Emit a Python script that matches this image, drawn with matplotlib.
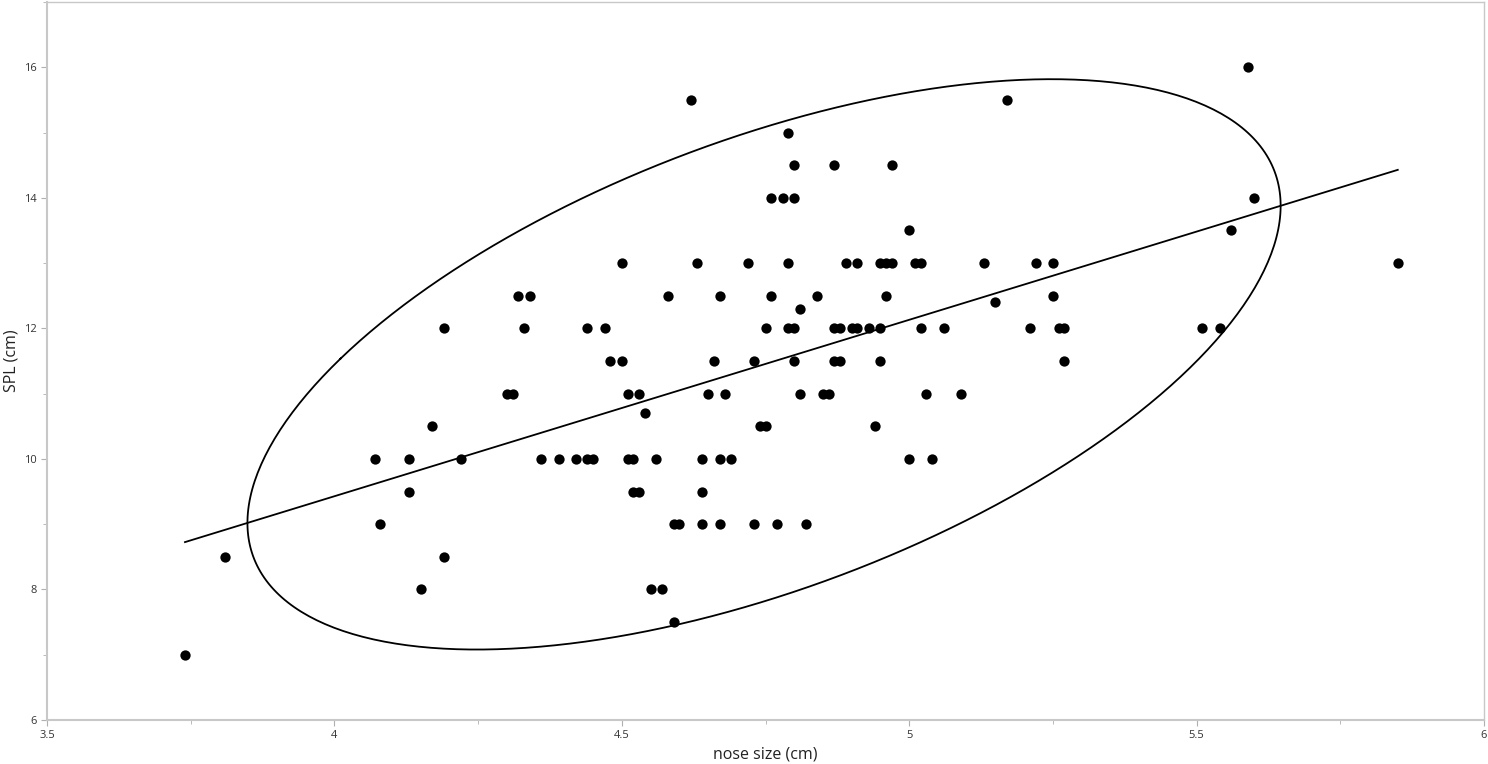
import matplotlib
matplotlib.use("Agg")
import matplotlib.pyplot as plt
from matplotlib.ticker import MultipleLocator
import numpy as np

plt.rcParams['font.family'] = ['Open Sans', 'DejaVu Sans']

# nose size (cm) and SPL (cm)
nose = [3.74, 3.81, 4.07, 4.08, 4.13, 4.13, 4.15, 4.17, 4.19, 4.19,
        4.22, 4.30, 4.31, 4.32, 4.33, 4.34, 4.36, 4.39, 4.42, 4.44,
        4.44, 4.45, 4.47, 4.48, 4.50, 4.50, 4.51, 4.51, 4.52, 4.52,
        4.53, 4.53, 4.54, 4.55, 4.56, 4.57, 4.58, 4.59, 4.59, 4.60,
        4.62, 4.63, 4.64, 4.64, 4.64, 4.65, 4.66, 4.67, 4.67, 4.67,
        4.68, 4.69, 4.72, 4.73, 4.73, 4.74, 4.75, 4.75, 4.76, 4.76,
        4.77, 4.78, 4.79, 4.79, 4.79, 4.80, 4.80, 4.80, 4.80, 4.81,
        4.81, 4.82, 4.84, 4.85, 4.86, 4.87, 4.87, 4.87, 4.88, 4.88,
        4.89, 4.90, 4.91, 4.91, 4.93, 4.94, 4.95, 4.95, 4.95, 4.96,
        4.96, 4.97, 4.97, 5.00, 5.00, 5.01, 5.02, 5.02, 5.03, 5.04,
        5.06, 5.09, 5.13, 5.15, 5.17, 5.21, 5.22, 5.25, 5.25, 5.26,
        5.27, 5.27, 5.51, 5.54, 5.56, 5.59, 5.60, 5.85]
spl = [7.0, 8.5, 10.0, 9.0, 10.0, 9.5, 8.0, 10.5, 12.0, 8.5,
       10.0, 11.0, 11.0, 12.5, 12.0, 12.5, 10.0, 10.0, 10.0, 12.0,
       10.0, 10.0, 12.0, 11.5, 13.0, 11.5, 11.0, 10.0, 10.0, 9.5,
       11.0, 9.5, 10.7, 8.0, 10.0, 8.0, 12.5, 9.0, 7.5, 9.0,
       15.5, 13.0, 10.0, 9.5, 9.0, 11.0, 11.5, 12.5, 10.0, 9.0,
       11.0, 10.0, 13.0, 11.5, 9.0, 10.5, 12.0, 10.5, 14.0, 12.5,
       9.0, 14.0, 15.0, 13.0, 12.0, 14.5, 14.0, 12.0, 11.5, 12.3,
       11.0, 9.0, 12.5, 11.0, 11.0, 14.5, 12.0, 11.5, 12.0, 11.5,
       13.0, 12.0, 13.0, 12.0, 12.0, 10.5, 13.0, 12.0, 11.5, 13.0,
       12.5, 14.5, 13.0, 13.5, 10.0, 13.0, 13.0, 12.0, 11.0, 10.0,
       12.0, 11.0, 13.0, 12.4, 15.5, 12.0, 13.0, 13.0, 12.5, 12.0,
       12.0, 11.5, 12.0, 12.0, 13.5, 16.0, 14.0, 13.0]

x = np.array(nose)
y = np.array(spl)

fig = plt.figure(figsize=(14.88, 7.64), dpi=100)
ax = fig.add_axes([0.0316, 0.0576, 0.9657, 0.9398])

ax.scatter(x, y, s=55, color='black', zorder=3, linewidths=0)

# least squares fit over the data range
b, a = np.polyfit(x, y, 1)
xl = np.array([x.min(), x.max()])
ax.plot(xl, a + b * xl, color='black', lw=1.3)

# 95% bivariate normal density ellipse
mu = np.array([x.mean(), y.mean()])
cov = np.cov(x, y)
vals, vecs = np.linalg.eigh(cov)
t = np.linspace(0, 2 * np.pi, 400)
r = np.sqrt(5.991)
circ = np.vstack([np.cos(t), np.sin(t)])
ell = vecs @ (np.sqrt(vals)[:, None] * circ) * r + mu[:, None]
ax.plot(ell[0], ell[1], color='black', lw=1.3)

ax.set_xlim(3.5, 6)
ax.set_ylim(6, 17)
ax.xaxis.set_major_locator(MultipleLocator(0.5))
ax.xaxis.set_minor_locator(MultipleLocator(0.25))
ax.yaxis.set_major_locator(MultipleLocator(2))
ax.yaxis.set_minor_locator(MultipleLocator(1))
ax.set_xticks([3.5, 4, 4.5, 5, 5.5, 6])
ax.set_xticklabels(['3.5', '4', '4.5', '5', '5.5', '6'])

for s in ax.spines.values():
    s.set_color('#c8c8c8')
    s.set_linewidth(1.0)
ax.spines['bottom'].set_linewidth(1.5)
ax.spines['left'].set_linewidth(1.5)
ax.tick_params(which='both', colors='#b0b0b0', labelcolor='#333333',
               labelsize=8, direction='out')
ax.tick_params(which='major', length=4)
ax.tick_params(which='minor', length=3)

ax.set_xlabel('nose size (cm)', fontsize=11.5, color='#222222', labelpad=4)
ax.set_ylabel('SPL (cm)', fontsize=11.5, color='#222222')
ax.yaxis.set_label_coords(-0.0195, 0.5)

fig.savefig('out.png', dpi=100)
